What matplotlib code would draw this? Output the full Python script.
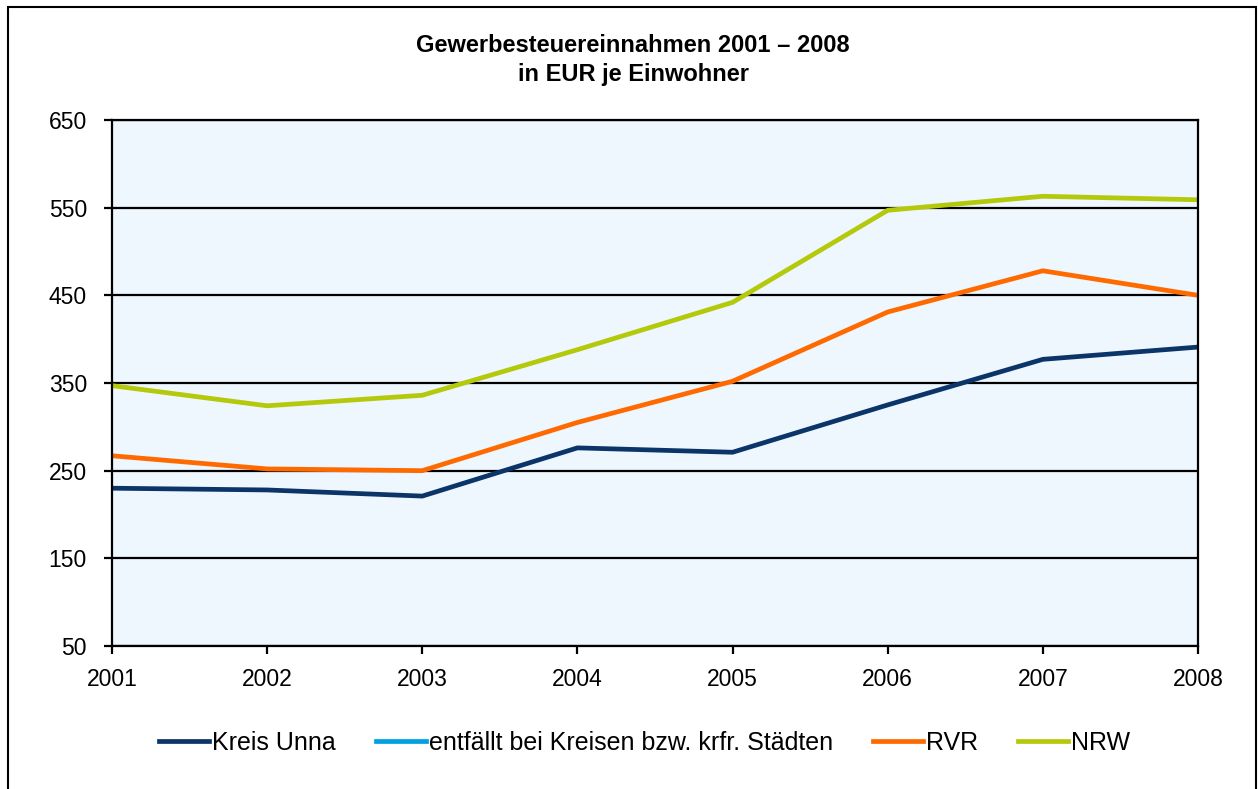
import matplotlib
matplotlib.use("Agg")
import matplotlib.pyplot as plt
from matplotlib.patches import Rectangle

plt.rcParams["font.family"] = ["Liberation Sans", "DejaVu Sans"]

years = [2001, 2002, 2003, 2004, 2005, 2006, 2007, 2008]
kreis_unna = [230, 228, 221, 276, 271, 325, 377, 391]
entfaellt = []  # no values in the source
rvr = [267, 252, 250, 305, 352, 431, 478, 450]
nrw = [347, 324, 336, 388, 442, 547, 563, 559]

yticks = [50, 150, 250, 350, 450, 550, 650]

fig = plt.figure(figsize=(12.58, 7.89), dpi=100)
ax = fig.add_axes([112 / 1258, 1 - 646 / 789, (1198 - 112) / 1258, (646 - 120) / 789])
ax.set_facecolor("#EEF6FE")

lw = 3.4
ax.plot(years, kreis_unna, color="#0B3468", lw=lw, label="Kreis Unna", zorder=4)
ax.plot([], [], color="#00A0E3", lw=lw, label="entfällt bei Kreisen bzw. krfr. Städten")
ax.plot(years, rvr, color="#FF6A00", lw=lw, label="RVR", zorder=4)
ax.plot(years, nrw, color="#B3C90A", lw=lw, label="NRW", zorder=4)

ax.set_xlim(2001, 2008)
ax.set_ylim(50, 650)
ax.set_xticks(years)
ax.set_yticks(yticks)
ax.tick_params(axis="both", labelsize=16.5, width=1.6, length=6, color="black")
ax.tick_params(axis="x", pad=10)
ax.tick_params(axis="y", pad=12)
ax.grid(axis="y", color="black", lw=1.6, zorder=2)
ax.set_axisbelow(True)
for s in ax.spines.values():
    s.set_linewidth(1.6)
    s.set_zorder(5)

fig.text(633 / 1258, 1 - 45 / 789, "Gewerbesteuereinnahmen 2001 – 2008",
         ha="center", va="center", fontsize=17, fontweight="bold")
fig.text(633 / 1258, 1 - 75 / 789, "in EUR je Einwohner",
         ha="center", va="center", fontsize=17, fontweight="bold")

fig.legend(loc="center", bbox_to_anchor=(645 / 1258, 1 - 743 / 789), ncol=4,
           frameon=False, fontsize=18, handlelength=2.0, handletextpad=0.12,
           columnspacing=1.6)

fig.patches.append(Rectangle((8 / 1258, -0.01), (1256 - 8) / 1258, 1 - 7 / 789 + 0.01,
                             transform=fig.transFigure, fill=False,
                             edgecolor="black", lw=1.5))

fig.savefig("out.png", dpi=100)
